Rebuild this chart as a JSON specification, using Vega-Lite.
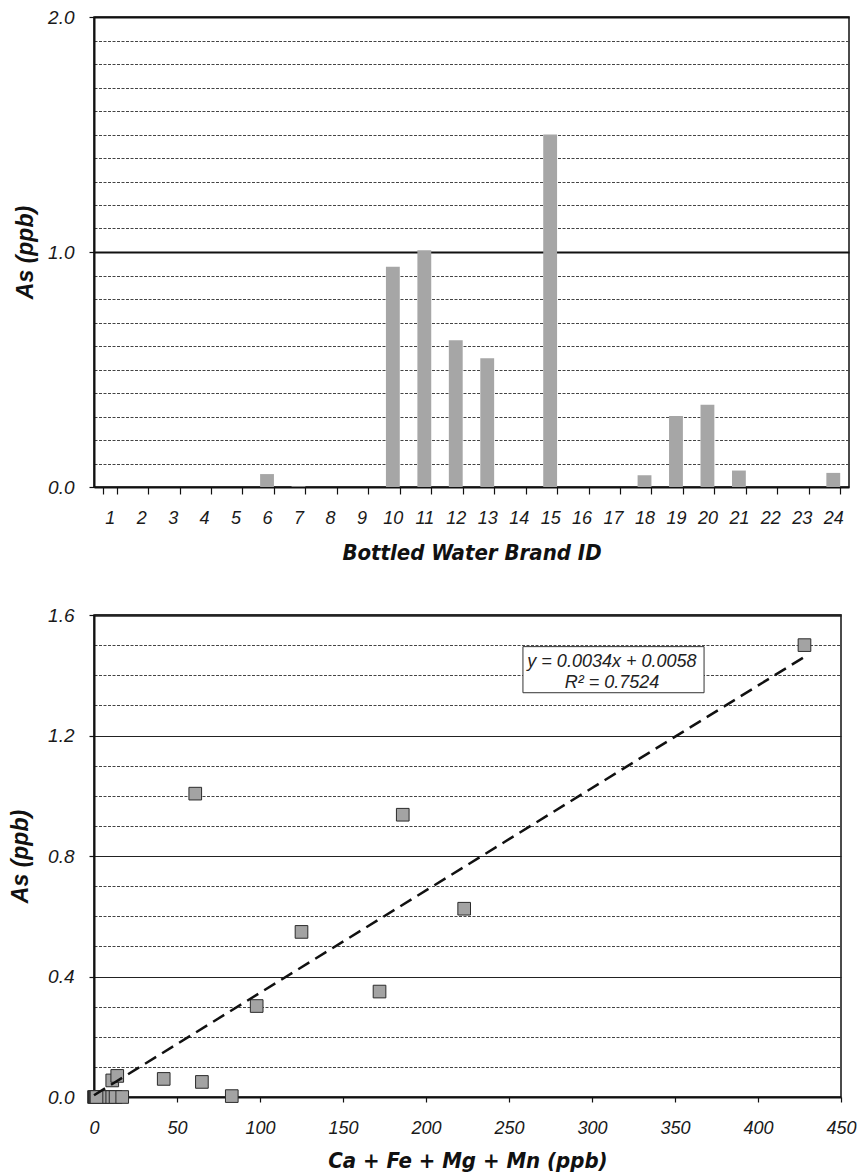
{
  "$schema": "https://vega.github.io/schema/vega-lite/v6.json",
  "padding": {"left": 8, "top": 7, "right": 5, "bottom": 3},
  "background": "white",
  "spacing": 41,
  "config": {
    "view": {"stroke": "#111", "strokeWidth": 1.5},
    "axis": {
      "labelFont": "Liberation Sans", "labelFontStyle": "italic", "labelColor": "#1a1a1a",
      "titleFont": "'DejaVu Sans Condensed', 'Liberation Sans', sans-serif", "titleFontStyle": "italic", "titleFontWeight": "bold", "titleColor": "#111",
      "domainColor": "#111", "tickColor": "#111"
    }
  },
  "datasets": {
    "brands": [
      {"brand": 1, "as": 0, "sum": 0},
      {"brand": 2, "as": 0, "sum": 0.5},
      {"brand": 3, "as": 0, "sum": 1},
      {"brand": 4, "as": 0, "sum": 2},
      {"brand": 5, "as": 0, "sum": 3},
      {"brand": 6, "as": 0.055, "sum": 11},
      {"brand": 7, "as": 0.003, "sum": 83},
      {"brand": 8, "as": 0, "sum": 4},
      {"brand": 9, "as": 0, "sum": 6},
      {"brand": 10, "as": 0.937, "sum": 186},
      {"brand": 11, "as": 1.007, "sum": 61},
      {"brand": 12, "as": 0.625, "sum": 223},
      {"brand": 13, "as": 0.548, "sum": 125},
      {"brand": 14, "as": 0, "sum": 8},
      {"brand": 15, "as": 1.5, "sum": 428},
      {"brand": 16, "as": 0, "sum": 11},
      {"brand": 17, "as": 0, "sum": 13},
      {"brand": 18, "as": 0.05, "sum": 65},
      {"brand": 19, "as": 0.302, "sum": 98},
      {"brand": 20, "as": 0.35, "sum": 172},
      {"brand": 21, "as": 0.07, "sum": 14},
      {"brand": 22, "as": 0, "sum": 17},
      {"brand": 23, "as": 0, "sum": 1.5},
      {"brand": 24, "as": 0.06, "sum": 42}
    ],
    "trend": [
      {"sum": 0, "as": 0.0058},
      {"sum": 428, "as": 1.461}
    ],
    "box": [
      {"x1": 258.4, "x2": 367.5, "y1": 1.495, "y2": 1.342}
    ],
    "eq": [
      {"label": "y = 0.0034x + 0.0058", "tx": 312, "ty": 1.445},
      {"label": "R² = 0.7524", "tx": 312, "ty": 1.375}
    ]
  },
  "vconcat": [
    {
      "width": 755,
      "height": 470,
      "data": {"name": "brands"},
      "mark": {"type": "bar", "color": "#a6a6a6"},
      "encoding": {
        "x": {
          "field": "brand", "type": "ordinal",
          "scale": {"paddingInner": 0.56, "paddingOuter": 0.28},
          "axis": {
            "title": "Bottled Water Brand ID", "titleFontSize": 22, "titlePadding": 15,
            "labelAngle": 0, "labelFontSize": 18, "labelPadding": 15,
            "tickBand": "extent", "tickSize": 7, "tickWidth": 1.2,
            "domainWidth": 2, "grid": false
          }
        },
        "y": {
          "field": "as", "type": "quantitative",
          "scale": {"domain": [0, 2], "nice": false},
          "axis": {
            "title": "As (ppb)", "titleFont": "Liberation Sans", "titleFontSize": 23, "titlePadding": 10,
            "values": [0, 0.1, 0.2, 0.3, 0.4, 0.5, 0.6, 0.7, 0.8, 0.9, 1, 1.1, 1.2, 1.3, 1.4, 1.5, 1.6, 1.7, 1.8, 1.9, 2],
            "labelExpr": "(datum.value == 0 || datum.value == 1 || datum.value == 2) ? format(datum.value, '.1f') : ''",
            "labelFontSize": 19, "labelPadding": 15,
            "tickSize": 5, "tickWidth": 1.2,
            "tickOpacity": {"condition": {"test": "datum.value == 0 || datum.value == 1 || datum.value == 2", "value": 1}, "value": 0},
            "domainWidth": 2,
            "grid": true,
            "gridColor": {"condition": {"test": "datum.value == 1 || datum.value == 2", "value": "#111"}, "value": "#444"},
            "gridWidth": {"condition": {"test": "datum.value == 1 || datum.value == 2", "value": 2}, "value": 1},
            "gridDash": {"condition": {"test": "datum.value == 1 || datum.value == 2", "value": []}, "value": [3, 1.5]},
            "gridOpacity": 1
          }
        }
      }
    },
    {
      "width": 747,
      "height": 482,
      "layer": [
        {
          "data": {"name": "box"},
          "mark": {"type": "rect", "fill": "white", "stroke": "#333", "strokeWidth": 1},
          "encoding": {
            "x": {"field": "x1", "type": "quantitative"},
            "x2": {"field": "x2"},
            "y": {"field": "y1", "type": "quantitative"},
            "y2": {"field": "y2"}
          }
        },
        {
          "data": {"name": "eq"},
          "mark": {"type": "text", "font": "Liberation Sans", "fontStyle": "italic", "fontSize": 18, "color": "#222", "align": "center", "baseline": "middle"},
          "encoding": {
            "x": {"field": "tx", "type": "quantitative"},
            "y": {"field": "ty", "type": "quantitative"},
            "text": {"field": "label"}
          }
        },
        {
          "data": {"name": "brands"},
          "mark": {"type": "point", "shape": "square", "filled": true, "size": 160, "fill": "#a3a3a3", "stroke": "#2b2b2b", "strokeWidth": 1, "opacity": 1},
          "encoding": {
            "x": {"field": "sum", "type": "quantitative"},
            "y": {"field": "as", "type": "quantitative"}
          }
        },
        {
          "data": {"name": "trend"},
          "mark": {"type": "line", "color": "#111", "strokeWidth": 2.5, "strokeDash": [13, 7]},
          "encoding": {
            "x": {"field": "sum", "type": "quantitative"},
            "y": {"field": "as", "type": "quantitative"}
          }
        }
      ],
      "resolve": {"scale": {"x": "shared", "y": "shared"}},
      "encoding": {
        "x": {
          "field": "sum", "type": "quantitative",
          "scale": {"domain": [0, 450], "nice": false},
          "axis": {
            "title": "Ca + Fe + Mg + Mn (ppb)", "titleFontSize": 22, "titlePadding": 13,
            "values": [0, 50, 100, 150, 200, 250, 300, 350, 400, 450],
            "format": "d", "labelFontSize": 18, "labelPadding": 17, "labelFlush": false,
            "tickSize": 5, "tickWidth": 1.2,
            "domainWidth": 2, "grid": false
          }
        },
        "y": {
          "field": "as", "type": "quantitative",
          "scale": {"domain": [0, 1.6], "nice": false},
          "axis": {
            "title": "As (ppb)", "titleFont": "Liberation Sans", "titleFontSize": 23, "titlePadding": 15,
            "values": [0, 0.1, 0.2, 0.3, 0.4, 0.5, 0.6, 0.7, 0.8, 0.9, 1, 1.1, 1.2, 1.3, 1.4, 1.5, 1.6],
            "labelExpr": "(datum.value == 0 || datum.value == 0.4 || datum.value == 0.8 || datum.value == 1.2 || datum.value == 1.6) ? format(datum.value, '.1f') : ''",
            "labelFontSize": 19, "labelPadding": 15,
            "tickSize": 5, "tickWidth": 1.2,
            "tickOpacity": {"condition": {"test": "datum.value == 0 || datum.value == 0.4 || datum.value == 0.8 || datum.value == 1.2 || datum.value == 1.6", "value": 1}, "value": 0},
            "domainWidth": 2,
            "grid": true,
            "gridColor": {"condition": {"test": "datum.value == 0.4 || datum.value == 0.8 || datum.value == 1.2 || datum.value == 1.6", "value": "#222"}, "value": "#444"},
            "gridWidth": {"condition": {"test": "datum.value == 1.6", "value": 2.5}, "value": {"condition": {"test": "datum.value == 0.4 || datum.value == 0.8 || datum.value == 1.2", "value": 1.5}, "value": 1}},
            "gridDash": {"condition": {"test": "datum.value == 0.4 || datum.value == 0.8 || datum.value == 1.2 || datum.value == 1.6", "value": []}, "value": [3, 1.5]},
            "gridOpacity": 1
          }
        }
      }
    }
  ]
}
